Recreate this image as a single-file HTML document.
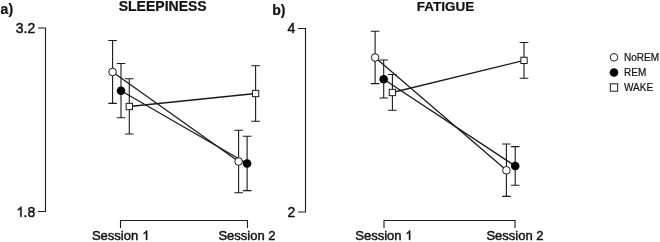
<!DOCTYPE html>
<html><head><meta charset="utf-8"><style>
html,body{margin:0;padding:0;background:#fff;width:660px;height:242px;overflow:hidden}
svg{display:block}
body{filter:grayscale(1)}
text{font-family:"Liberation Sans", sans-serif;fill:#111}
</style></head><body>
<svg width="660" height="242" viewBox="0 0 660 242">
<path d="M38.0,28H45.5V211.5H38.0" fill="none" stroke="#1a1a1a" stroke-width="1.1"/>
<path d="M120.5,228.0V220.5H247.5V228.0" fill="none" stroke="#1a1a1a" stroke-width="1.1"/>
<line x1="112.6" y1="72.0" x2="238.6" y2="161.5" stroke="#1a1a1a" stroke-width="1.3"/>
<line x1="121" y1="90.7" x2="247.1" y2="163.5" stroke="#1a1a1a" stroke-width="1.3"/>
<line x1="129.3" y1="106.5" x2="255.6" y2="93.5" stroke="#1a1a1a" stroke-width="1.3"/>
<path d="M108.30,40.5H116.90M112.6,40.5V103.4M108.30,103.4H116.90" fill="none" stroke="#1a1a1a" stroke-width="1.1"/>
<path d="M234.30,130.3H242.90M238.6,130.3V192.8M234.30,192.8H242.90" fill="none" stroke="#1a1a1a" stroke-width="1.1"/>
<path d="M116.70,63.5H125.30M121,63.5V117.7M116.70,117.7H125.30" fill="none" stroke="#1a1a1a" stroke-width="1.1"/>
<path d="M242.80,136.2H251.40M247.1,136.2V190.6M242.80,190.6H251.40" fill="none" stroke="#1a1a1a" stroke-width="1.1"/>
<path d="M125.00,78.8H133.60M129.3,78.8V134M125.00,134H133.60" fill="none" stroke="#1a1a1a" stroke-width="1.1"/>
<path d="M251.30,65.8H259.90M255.6,65.8V121.3M251.30,121.3H259.90" fill="none" stroke="#1a1a1a" stroke-width="1.1"/>
<circle cx="112.6" cy="72.0" r="3.8" fill="#fff" stroke="#1a1a1a" stroke-width="1"/>
<circle cx="238.6" cy="161.5" r="3.8" fill="#fff" stroke="#1a1a1a" stroke-width="1"/>
<circle cx="121" cy="90.7" r="4.3" fill="#000"/>
<circle cx="247.1" cy="163.5" r="4.3" fill="#000"/>
<rect x="126.15" y="103.35" width="6.3" height="6.3" fill="#fff" stroke="#1a1a1a" stroke-width="1"/>
<rect x="252.45" y="90.35" width="6.3" height="6.3" fill="#fff" stroke="#1a1a1a" stroke-width="1"/>
<path d="M298.0,28.5H305.5V212.0H298.0" fill="none" stroke="#1a1a1a" stroke-width="1.1"/>
<path d="M384,228.0V220.5H515V228.0" fill="none" stroke="#1a1a1a" stroke-width="1.1"/>
<line x1="375.1" y1="57.5" x2="506.4" y2="170.3" stroke="#1a1a1a" stroke-width="1.3"/>
<line x1="383.7" y1="79.2" x2="515.2" y2="166" stroke="#1a1a1a" stroke-width="1.3"/>
<line x1="392.4" y1="92.5" x2="524" y2="60.4" stroke="#1a1a1a" stroke-width="1.3"/>
<path d="M370.80,31.2H379.40M375.1,31.2V83.6M370.80,83.6H379.40" fill="none" stroke="#1a1a1a" stroke-width="1.1"/>
<path d="M502.10,144H510.70M506.4,144V196.4M502.10,196.4H510.70" fill="none" stroke="#1a1a1a" stroke-width="1.1"/>
<path d="M379.40,60H388.00M383.7,60V98M379.40,98H388.00" fill="none" stroke="#1a1a1a" stroke-width="1.1"/>
<path d="M510.90,146.6H519.50M515.2,146.6V185.2M510.90,185.2H519.50" fill="none" stroke="#1a1a1a" stroke-width="1.1"/>
<path d="M388.10,74.5H396.70M392.4,74.5V110.3M388.10,110.3H396.70" fill="none" stroke="#1a1a1a" stroke-width="1.1"/>
<path d="M519.70,42.5H528.30M524,42.5V78.25M519.70,78.25H528.30" fill="none" stroke="#1a1a1a" stroke-width="1.1"/>
<circle cx="375.1" cy="57.5" r="3.8" fill="#fff" stroke="#1a1a1a" stroke-width="1"/>
<circle cx="506.4" cy="170.3" r="3.8" fill="#fff" stroke="#1a1a1a" stroke-width="1"/>
<circle cx="383.7" cy="79.2" r="4.3" fill="#000"/>
<circle cx="515.2" cy="166" r="4.3" fill="#000"/>
<rect x="389.25" y="89.35" width="6.3" height="6.3" fill="#fff" stroke="#1a1a1a" stroke-width="1"/>
<rect x="520.85" y="57.25" width="6.3" height="6.3" fill="#fff" stroke="#1a1a1a" stroke-width="1"/>
<circle cx="614" cy="57.3" r="3.8" fill="#fff" stroke="#1a1a1a" stroke-width="1"/>
<circle cx="614" cy="72.5" r="4.3" fill="#000"/>
<rect x="610.3" y="83.8" width="7.4" height="7.4" fill="#fff" stroke="#1a1a1a" stroke-width="1"/>
<text x="0.6" y="14.2" font-size="14" text-anchor="start" font-weight="bold" stroke="#111" stroke-width="0.2">a)</text>
<text x="162.7" y="11.3" font-size="14" text-anchor="middle" font-weight="bold" stroke="#111" stroke-width="0.2">SLEEPINESS</text>
<text x="35.3" y="33" font-size="14" text-anchor="end" stroke="#111" stroke-width="0.45">3.2</text>
<text x="35.3" y="216.8" font-size="14" text-anchor="end" stroke="#111" stroke-width="0.45">.8</text>
<path transform="translate(16.299,216.8) scale(0.006836,-0.006836)" d="M763 0L583 0L583 1147Q518 1085 412 1023Q306 961 222 930L222 1104Q373 1175 486 1276Q599 1377 646 1472L763 1472Z" fill="#111" stroke="#111" stroke-width="65.8"/>
<text x="91.955" y="239.8" font-size="13" text-anchor="start" stroke="#111" stroke-width="0.45">Session</text>
<path transform="translate(142.328,239.9) scale(0.006348,-0.006348)" d="M763 0L583 0L583 1147Q518 1085 412 1023Q306 961 222 930L222 1104Q373 1175 486 1276Q599 1377 646 1472L763 1472Z" fill="#111" stroke="#111" stroke-width="70.9"/>
<text x="247" y="239.8" font-size="13" text-anchor="middle" stroke="#111" stroke-width="0.45">Session 2</text>
<text x="272.3" y="14.6" font-size="14" text-anchor="start" font-weight="bold" stroke="#111" stroke-width="0.2">b)</text>
<text x="445.6" y="11.4" font-size="13.5" text-anchor="middle" font-weight="bold" stroke="#111" stroke-width="0.2">FATIGUE</text>
<text x="295.3" y="33" font-size="14" text-anchor="end" stroke="#111" stroke-width="0.45">4</text>
<text x="295.3" y="216.8" font-size="14" text-anchor="end" stroke="#111" stroke-width="0.45">2</text>
<text x="355.255" y="239.8" font-size="13" text-anchor="start" stroke="#111" stroke-width="0.45">Session</text>
<path transform="translate(405.328,239.9) scale(0.006348,-0.006348)" d="M763 0L583 0L583 1147Q518 1085 412 1023Q306 961 222 930L222 1104Q373 1175 486 1276Q599 1377 646 1472L763 1472Z" fill="#111" stroke="#111" stroke-width="70.9"/>
<text x="515" y="239.8" font-size="13" text-anchor="middle" stroke="#111" stroke-width="0.45">Session 2</text>
<text x="624" y="60.8" font-size="10" text-anchor="start" stroke="#111" stroke-width="0.2">NoREM</text>
<text x="624" y="76.3" font-size="10" text-anchor="start" stroke="#111" stroke-width="0.2">REM</text>
<text x="624" y="91.2" font-size="10" text-anchor="start" stroke="#111" stroke-width="0.2">WAKE</text>
</svg>
</body></html>
